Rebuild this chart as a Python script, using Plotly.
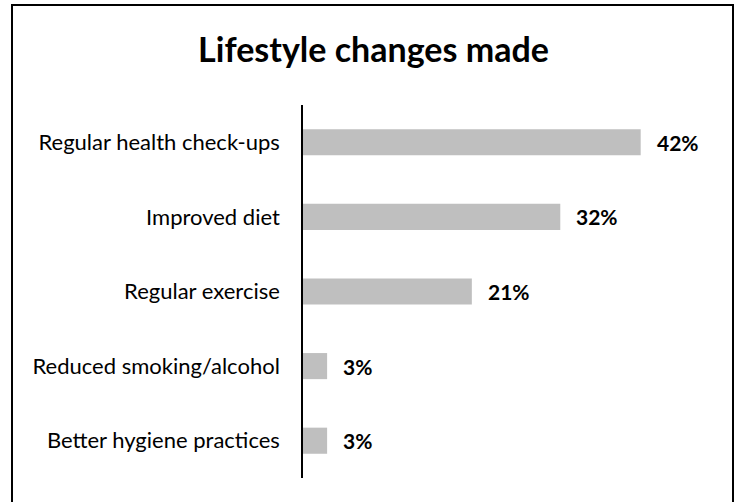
import plotly.graph_objects as go

categories = [
    "Regular health check-ups",
    "Improved diet",
    "Regular exercise",
    "Reduced smoking/alcohol",
    "Better hygiene practices",
]
values = [42, 32, 21, 3, 3]
labels = ["42%", "32%", "21%", "3%", "3%"]

W, H = 737, 502
ml, mr, mt, mb = 303, 32, 105, 24
pw, ph = W - ml - mr, H - mt - mb


def px_x(x):
    return (x - ml) / pw


def px_y(y):
    return (H - mb - y) / ph


fig = go.Figure(
    go.Bar(
        x=values,
        y=categories,
        orientation="h",
        marker=dict(color="#bfbfbf", line=dict(width=0)),
        width=0.35,
        hoverinfo="skip",
    )
)

for cat, v, lab in zip(categories, values, labels):
    fig.add_annotation(
        x=v, y=cat, text=f"<b>{lab}</b>", showarrow=False,
        xanchor="left", xshift=14,
        font=dict(family="Lato", size=21, color="#000000"),
    )

# outer frame
fig.add_shape(
    type="rect", xref="paper", yref="paper",
    x0=px_x(12), x1=px_x(733), y0=px_y(504), y1=px_y(5),
    line=dict(color="#000000", width=2), fillcolor="rgba(0,0,0,0)",
)

fig.update_layout(
    width=W, height=H,
    margin=dict(l=ml, r=mr, t=mt, b=mb),
    paper_bgcolor="#ffffff", plot_bgcolor="#ffffff",
    showlegend=False,
    title=dict(
        text="<b>Lifestyle changes made</b>",
        x=(197 + 550) / 2 / W, xanchor="center",
        y=1 - 50 / H, yanchor="middle",
        font=dict(family="Lato", size=34, color="#000000"),
    ),
    xaxis=dict(range=[0, 50], visible=False, fixedrange=True),
    yaxis=dict(
        autorange="reversed",
        showline=True, linecolor="#000000", linewidth=1.5,
        showgrid=False, zeroline=False, ticks="",
        ticklabelstandoff=17,
        tickfont=dict(family="Lato", size=22, color="#000000"),
        fixedrange=True,
    ),
)

fig.write_html("out.html")
